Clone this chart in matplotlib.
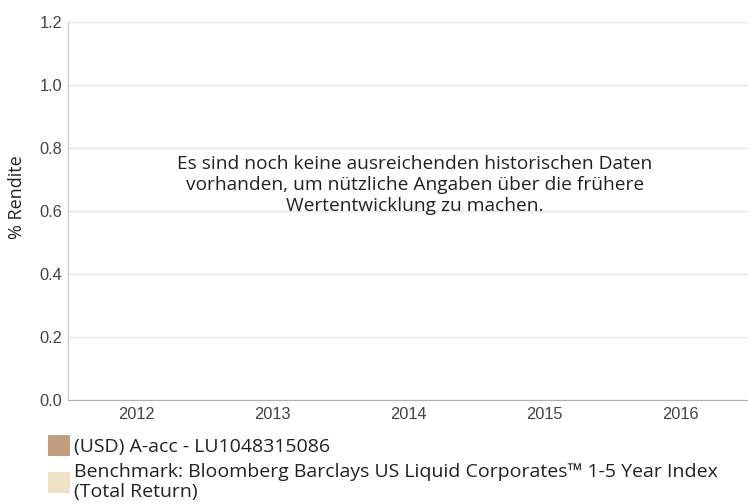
import numpy as np
import matplotlib.pyplot as plt
from matplotlib.patches import Patch

# Chart data (no performance history available yet)
years = ['2012', '2013', '2014', '2015', '2016']
fund_returns = [np.nan, np.nan, np.nan, np.nan, np.nan]
benchmark_returns = [np.nan, np.nan, np.nan, np.nan, np.nan]
series_names = ['(USD) A-acc - LU1048315086',
                'Benchmark: Bloomberg Barclays US Liquid Corporates\u2122 1-5 Year Index\n(Total Return)']
series_colors = ['#c29e7e', '#ede1c6']
y_ticks = [0.0, 0.2, 0.4, 0.6, 0.8, 1.0, 1.2]
message = ('Es sind noch keine ausreichenden historischen Daten\n'
           'vorhanden, um nützliche Angaben über die frühere\n'
           'Wertentwicklung zu machen.')

fig = plt.figure(figsize=(7.48, 5.04), dpi=100)
ax = fig.add_axes([68 / 748, 1 - 400 / 504, 1 - 68 / 748, (400 - 22) / 504])

x = np.arange(len(years))
w = 0.3
ax.bar(x - w / 2, fund_returns, w, color=series_colors[0])
ax.bar(x + w / 2, benchmark_returns, w, color=series_colors[1])

ax.set_xlim(-0.5, len(years) - 0.5)
ax.set_ylim(0, 1.2)
ax.set_xticks(x)
ax.set_xticklabels(years, fontfamily='Liberation Sans', fontsize=11.8, color='#444444')
ax.set_yticks(y_ticks)
ax.set_yticklabels([f'{v:.1f}' for v in y_ticks], fontfamily='Liberation Sans',
                   fontsize=11.8, color='#444444')
ax.tick_params(length=0)
ax.tick_params(axis='x', pad=5)
ax.tick_params(axis='y', pad=4)
ax.grid(axis='y', color='#e8e8e8', linewidth=1)
ax.set_axisbelow(True)
for s in ['top', 'right']:
    ax.spines[s].set_visible(False)
ax.spines['left'].set_color('#c8c8c8')
ax.spines['bottom'].set_color('#b0b0b0')

fig.text(17 / 748, 1 - 197 / 504, '% Rendite', rotation=90, ha='center', va='center',
         fontfamily='Open Sans', fontsize=13, color='#222222')

fig.text(415 / 748, 1 - 185 / 504, message, ha='center', va='center',
         fontfamily='Open Sans', fontsize=13.8, color='#222222', linespacing=1.2)

handles = [Patch(facecolor=c, edgecolor='none') for c in series_colors]
leg = fig.legend(handles, series_names, loc='upper left', bbox_to_anchor=(48 / 748, 1 - 435 / 504),
                 frameon=False, prop={'family': 'Open Sans', 'size': 14},
                 handlelength=1.13, handleheight=1.3, handletextpad=0.2,
                 labelspacing=0.35, borderaxespad=0, borderpad=0)
for t in leg.get_texts():
    t.set_color('#222222')
    t.set_linespacing(1.15)

fig.savefig('out.png', dpi=100)
